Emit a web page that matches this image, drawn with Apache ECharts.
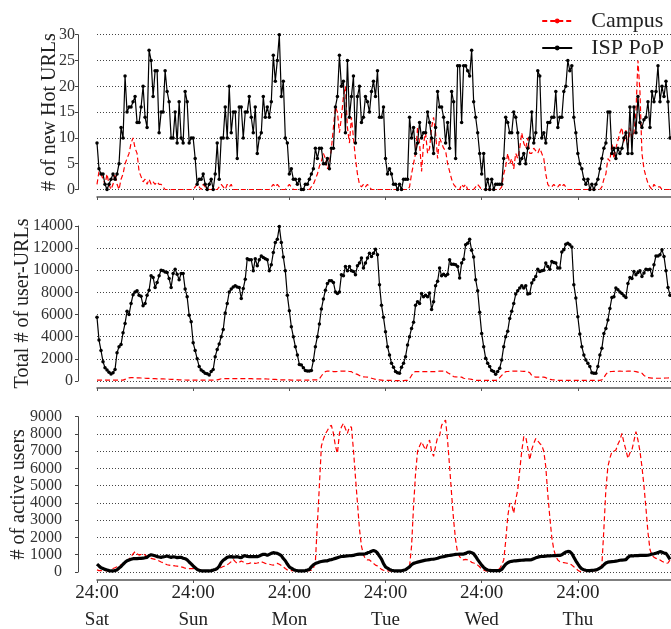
<!DOCTYPE html>
<html><head><meta charset="utf-8">
<script src="https://cdn.jsdelivr.net/npm/echarts@6/dist/echarts.min.js"></script>
<style>html,body{margin:0;padding:0;background:#fff}#c{width:671px;height:629px}</style>
</head><body><div id="c"></div>
<script>
// x: half-hour slots since Sat 24:00
const dayLabels = ['Sat','Sun','Mon','Tue','Wed','Thu'];
const tickLabelTime = '24:00';

const hotIsp = [9,4,3,3,1,0,1,2,3,2,3,5,12,10,22,15,16,16,17,18,13,13,16,20,14,12,27,25,18,23,23,11,15,15,23,19,17,10,10,15,9,17,10,9,19,17,9,10,10,6,1,2,2,3,1,0,1,2,0,3,9,2,10,10,16,10,20,11,15,15,6,16,16,10,15,15,18,14,11,16,7,10,11,18,14,16,14,17,26,21,25,30,18,21,10,9,3,4,2,2,1,2,0,0,1,1,2,3,4,8,6,8,8,5,5,6,4,8,8,16,18,26,20,21,11,25,14,18,22,9,18,20,13,14,18,17,15,19,21,18,23,14,14,16,6,3,4,3,1,1,0,1,0,2,2,2,14,10,12,7,9,13,10,11,11,15,13,10,7,12,19,16,16,14,9,13,8,19,17,6,24,24,13,24,24,23,22,27,17,14,11,7,3,7,0,2,0,2,0,1,1,1,1,6,14,13,11,11,15,14,11,5,6,7,5,8,10,15,9,11,23,22,10,11,9,13,13,14,14,19,12,14,14,19,20,25,23,24,14,11,7,5,4,2,1,2,0,1,0,1,2,4,6,8,9,15,15,7,8,6,8,7,8,10,11,7,16,7,16,11,18,13,12,13.5,14,17,12,19,17,19,24,17,20,18,21,17,10];
const hotCampus = [1,3.5,3,2,1,3,1,0,1,3,1,0,2,3,5,6,7,9,10,8,7,3.5,2.5,1.5,2,1,2,1,1.5,1,1.5,1,1,0.5,0,0,0,0,0,0,0,0,0,0,0,0,0,0,
0,0.5,1,0.5,0,1,0.5,0,0,0,0,0,0,0.5,1,0.5,0,1,0.5,1,0,0,0,0,0,0,0,0,0,0,0,0,0,0,0,0,0,0,0,0.5,1,0.5,1,0.5,0,0,0,0.5,
1,0.5,0,0,0,0,0,0,0,0,0,0.5,1,2,3,4.5,5.5,7,6,4,5,8,12,16,15,11,14,18,20,12,9,14,10,6,3,1,0.5,1,0.5,1,0.5,0,0,0,0,0,0,0,
0,0,0,0,0,0,0,0,0,0,0,0,0.5,3,5,7,12,9,3.5,9,11,7,8,12,14,11,6,10,9,8,7.5,5,3.5,2,1,0.5,0,0,1,0.5,1,0,0,0,0,0.5,1,0.5,
0,0,0,0,0,0,0,0,0,0,0.5,3,4.5,7,5,6,4,7,6,8,11,9,8,10,7,7,8,7.5,7,8,7,6,3,1,0.5,0.5,1,0.5,0.5,1,0.5,1,0.5,0,0,0,0,0,
0,0,0,0,0,0,0,0,0,0,0,0,0.5,2,3,6,5.5,9,6,8,9.5,11,12,9,11.5,8,12,10,11,15,25,19,7,4,2.5,1.2,0.5,0,1,0.5,0.5,0.5,0,0,0,0,0];

const urlIsp = [5750,3700,2750,1750,1200,1000,800,630,750,1050,2550,3100,3300,4350,5200,6300,6000,7000,7800,8050,8150,7750,7650,6800,7000,7750,8200,9500,9350,8450,8900,9500,10000,9950,9850,9800,9250,8450,9700,10100,9650,9150,9700,9700,8300,7600,5950,5350,3450,2750,2000,1300,1000,850,700,650,550,850,1050,2200,2850,3350,4000,4650,6150,7000,8050,8300,8500,8600,8500,8450,7450,8350,9200,11050,10950,10950,9950,11050,10400,10950,11300,11150,11050,10950,9950,10500,11600,12500,12800,13950,12500,11200,9950,7750,6350,4900,4000,3100,2350,1500,1450,1200,950,900,900,950,1850,3100,4000,5150,6500,7400,8200,8800,9050,9050,8900,
8050,7900,8050,9600,9500,10350,9950,10350,9950,9900,9600,10400,10650,11100,10200,10650,11100,11550,11250,11550,11900,11400,8700,6850,5750,4450,3100,2350,1600,1250,850,750,700,1250,1600,2200,3250,4000,4750,5300,6850,7150,7000,7900,7600,7750,7600,7950,6450,7150,8600,9000,10200,9500,9650,9500,9650,10950,10550,10550,10500,10350,9300,10650,11000,12300,12450,12800,11800,11200,9150,8150,6200,4300,3100,2050,1600,1300,950,850,600,850,1150,1900,3100,4000,4500,5650,6300,7000,7850,8150,8400,8600,8400,8600,7850,7900,8850,9150,9450,10100,9900,9950,10000,10650,10350,10100,10800,10700,10650,10200,10200,11650,11850,12350,12450,12300,12100,8700,7500,5800,4250,3100,2350,1900,1600,1300,750,700,700,1300,2350,2950,4300,4750,5500,6550,7550,7600,8400,8250,8050,7900,7700,7550,8800,9350,9250,9900,9600,9800,9950,9450,9750,10100,10050,10100,9500,10500,11300,11300,11400,11850,11250,9950,8450,7750];
const urlCampus = [80,80,80,80,80,80,80,80,80,80,80,80,80,80,150,220,280,300,300,300,290,280,270,260,250,240,230,220,220,210,200,200,200,190,180,170,160,150,140,130,120,110,100,100,90,80,80,80,80,80,80,80,80,80,80,80,80,80,80,80,100,150,200,200,210,210,220,220,220,220,220,220,220,220,220,220,210,210,200,200,200,200,200,200,190,180,170,160,150,140,120,100,100,100,100,100,100,80,80,80,80,80,80,80,80,80,80,90,100,100,100,200,450,700,850,900,900,880,850,850,860,880,900,900,900,880,860,850,700,650,600,500,400,380,360,350,300,250,200,150,120,100,80,60,50,50,50,50,50,40,40,40,40,40,50,60,200,500,800,850,850,850,850,850,850,850,850,850,850,850,870,900,900,900,900,750,650,500,400,380,360,350,350,250,220,200,180,150,100,60,50,50,50,50,50,50,50,50,50,50,100,300,500,700,850,860,870,880,890,900,900,890,880,870,860,850,750,500,400,350,350,350,350,350,300,200,150,120,100,80,60,50,50,50,50,50,50,50,50,50,50,50,50,50,50,50,50,50,50,50,50,60,100,300,600,800,850,860,870,880,880,890,880,870,880,890,900,900,880,850,800,750,700,500,400,300,280,260,250,250,250,250,250,260,270,280,300];

const usersIsp = [460,350,250,200,150,120,80,60,60,90,120,230,320,450,560,650,700,740,770,770,780,790,790,800,830,850,950,1000,970,940,890,870,850,880,900,930,880,850,880,870,830,850,850,800,770,700,580,470,350,250,150,100,70,60,60,60,60,80,110,150,200,330,550,680,760,850,880,890,860,870,890,850,830,920,950,900,890,890,890,890,890,930,980,1030,1020,960,1020,1080,1120,1100,1080,1020,950,780,650,460,300,220,150,100,80,70,60,70,80,110,150,300,420,490,530,580,610,630,640,650,700,720,750,790,830,870,900,910,920,930,940,950,960,1000,1020,1040,1040,1040,1060,1110,1150,1200,1240,1200,1100,920,750,480,300,220,150,100,80,70,60,60,70,100,130,220,300,420,500,540,570,600,630,660,690,700,720,740,750,770,800,840,870,890,920,950,960,980,1000,1020,1030,1040,1040,1040,1080,1140,1160,1120,1060,900,720,560,400,270,170,120,90,80,80,80,80,80,150,300,450,540,590,620,640,650,660,670,680,690,700,700,700,720,770,820,860,890,900,910,920,930,930,940,950,950,960,960,1000,1080,1160,1190,1180,1070,860,650,470,300,180,130,100,80,80,90,100,120,160,230,300,420,520,570,590,600,610,630,650,680,690,700,720,850,930,940,940,950,950,960,960,960,960,970,1000,1040,1060,1090,1120,1180,1150,1100,1080,920,730];
const usersCampus = [120,80,80,80,80,80,120,150,200,250,300,350,420,480,500,600,750,890,1050,1180,1050,980,1020,1080,980,890,820,790,760,730,700,640,580,540,480,420,400,380,370,350,340,320,300,270,220,200,200,200,200,180,140,120,100,70,60,60,70,80,80,120,150,200,260,320,350,420,500,600,730,600,500,560,640,580,500,480,500,540,520,500,520,550,600,550,500,480,450,420,400,450,500,450,380,300,200,120,100,80,80,80,80,80,80,80,80,80,80,100,200,600,2800,5000,7300,7700,8000,8200,8420,8500,8030,7300,6870,8030,8400,8610,8300,8030,8420,8400,7070,5500,4000,2500,1500,1000,750,700,700,600,500,400,350,250,150,100,60,60,60,60,60,60,60,60,60,80,120,200,300,1500,3800,5700,7000,7300,7550,7300,7070,7400,7650,7000,6700,7300,7800,7900,8500,8700,8800,7600,6100,4500,3000,1850,1100,890,750,700,730,700,650,560,520,500,400,300,150,120,60,60,60,60,60,60,100,200,400,700,1800,3200,3980,3900,3400,4200,4750,5900,7000,7840,7840,7200,6490,7100,7450,7740,7600,7450,7350,7000,6100,4500,3200,2000,1300,900,700,600,560,540,520,500,480,400,300,200,100,30,40,60,80,80,80,80,80,80,150,250,400,2500,4800,6100,6600,6970,7000,7070,7400,7650,8030,7500,7070,6580,6900,7070,7600,8130,7650,7000,6100,5000,3700,2300,1300,980,850,790,720,700,620,560,500,520,700];

const hotTicks = {min:0, max:30, interval:5};
const urlTicks = {min:0, max:14000, interval:2000};
const userTicks = {min:0, max:9000, interval:1000};

const FONT = 'Liberation Serif';
const TXT = '#222';
const pairs = a => a.map((v,i)=>[i,v]);

const grids = [
  {left:97, right:0, top:34.7, height:154.8, outerBoundsMode:'none', containLabel:false},
  {left:97, right:0, top:226, height:155, outerBoundsMode:'none', containLabel:false},
  {left:97, right:0, top:416.7, height:155.3, outerBoundsMode:'none', containLabel:false}
];
function xAx(idx, showLabel, off){
  return {type:'value', gridIndex:idx, min:0, max:286.5, interval:48, offset:off,
    axisLine:{show:true, onZero:false, lineStyle:{color:'#555', width:1.5}},
    axisTick:{show:true, length:3, lineStyle:{color:'#555', width:1}},
    splitLine:{show:false},
    axisLabel:{show:showLabel, margin:0, fontFamily:FONT, fontSize:19, color:TXT, lineHeight:27,
      formatter: v => (v % 48 === 0 && v/48 < dayLabels.length) ? tickLabelTime + '\n' + dayLabels[v/48] : ''}
  };
}
function yAx(idx, t, name, gap, lblMargin){
  return {type:'value', gridIndex:idx, min:t.min, max:t.max, interval:t.interval, offset:19,
    name:name, nameLocation:'middle', nameGap:gap, nameRotate:90, nameMoveOverlap:false,
    nameTextStyle:{fontFamily:FONT, fontSize:20, color:TXT},
    axisLine:{show:true, onZero:false, lineStyle:{color:'#444', width:1}},
    axisTick:{show:true, length:3, lineStyle:{color:'#444'}},
    axisLabel:{margin:lblMargin, fontFamily:FONT, fontSize:16, color:'#333', formatter: v => String(v)},
    splitLine:{show:true, lineStyle:{color:'#444', width:1, type:[1,2]}}
  };
}
const red = '#ff0000';
function campus(idx, data){
  return {name:'Campus', type:'line', xAxisIndex:idx, yAxisIndex:idx, data:pairs(data), showSymbol:false, symbol:'none',
    lineStyle:{color:red, width:1.2, type:[5,3]}, itemStyle:{color:red}, z:2, clip:false};
}
function isp(idx, data, sym, w){
  return {name:'ISP PoP', type:'line', xAxisIndex:idx, yAxisIndex:idx, data:pairs(data),
    symbol: sym ? 'circle' : 'none', showSymbol: sym, symbolSize:3.5,
    lineStyle:{color:'#000', width:w}, itemStyle:{color:'#000'}, z:3, clip:false};
}

const chart = echarts.init(document.getElementById('c'), null, {renderer:'canvas'});
chart.setOption({
  animation:false,
  backgroundColor:'#fff',
  grid:grids,
  xAxis:[xAx(0,false,7.5), xAx(1,false,7), xAx(2,true,8)],
  yAxis:[yAx(0,hotTicks,'# of new Hot URLs',18.5,3), yAx(1,urlTicks,'Total # of user-URLs',45,5), yAx(2,userTicks,'# of active users',49.5,16)],
  legend:{data:['Campus','ISP PoP'], orient:'vertical', right:2, top:4, itemWidth:30, itemHeight:6, itemGap:3,
    textStyle:{fontFamily:FONT, fontSize:22, color:TXT, lineHeight:24, padding:[0,0,0,14]}},
  series:[
    campus(0, hotCampus), isp(0, hotIsp, true, 1.2),
    campus(1, urlCampus), isp(1, urlIsp, true, 1.2),
    campus(2, usersCampus), isp(2, usersIsp, false, 3.2)
  ]
});
</script></body></html>
